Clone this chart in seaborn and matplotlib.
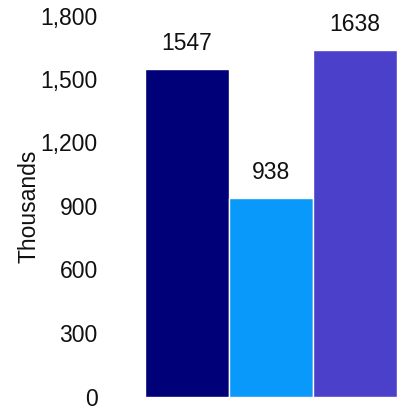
import matplotlib
matplotlib.use("Agg")
import matplotlib.pyplot as plt
import matplotlib.ticker as mticker
import seaborn as sns
import pandas as pd

# Data
categories = ["A", "B", "C"]
values = [1547, 938, 1638]
colors = ["#000078", "#0899FA", "#4A40C9"]
y_ticks = [0, 300, 600, 900, 1200, 1500, 1800]

sns.set_style("white")
plt.rcParams["font.family"] = ["Liberation Sans", "DejaVu Sans"]
plt.rcParams["text.color"] = "#111111"
plt.rcParams["axes.labelcolor"] = "#111111"

df = pd.DataFrame({"category": categories, "value": values})

fig = plt.figure(figsize=(3.97, 4.08), dpi=100)
ax = fig.add_axes([145 / 397, (408 - 396.5) / 408, (397 - 145) / 397, 381 / 408])

sns.barplot(data=df, x="category", y="value", hue="category", palette=colors,
            legend=False, width=1.0, edgecolor="white", linewidth=1.0,
            saturation=1.0, ax=ax)

ax.set_xlim(-0.5, 2.5)
ax.set_ylim(0, 1800)
ax.set_yticks(y_ticks)
ax.yaxis.set_major_formatter(mticker.FuncFormatter(lambda v, p: f"{int(v):,}"))
ax.tick_params(axis="y", length=0, pad=34, labelsize=16.5, labelcolor="#111111")
ax.set_xticks([])
ax.set_xlabel("")
ax.set_ylabel("Thousands", fontsize=16.5)
ax.yaxis.set_label_coords(-104 / 252, 0.5)

for s in ax.spines.values():
    s.set_visible(False)

for i, v in enumerate(values):
    ax.annotate(f"{v}", xy=(i, v), xytext=(0, 10), textcoords="offset points",
                ha="center", va="bottom", fontsize=16.5, color="#111111",
                clip_on=False)

fig.savefig("out.png", dpi=100)
